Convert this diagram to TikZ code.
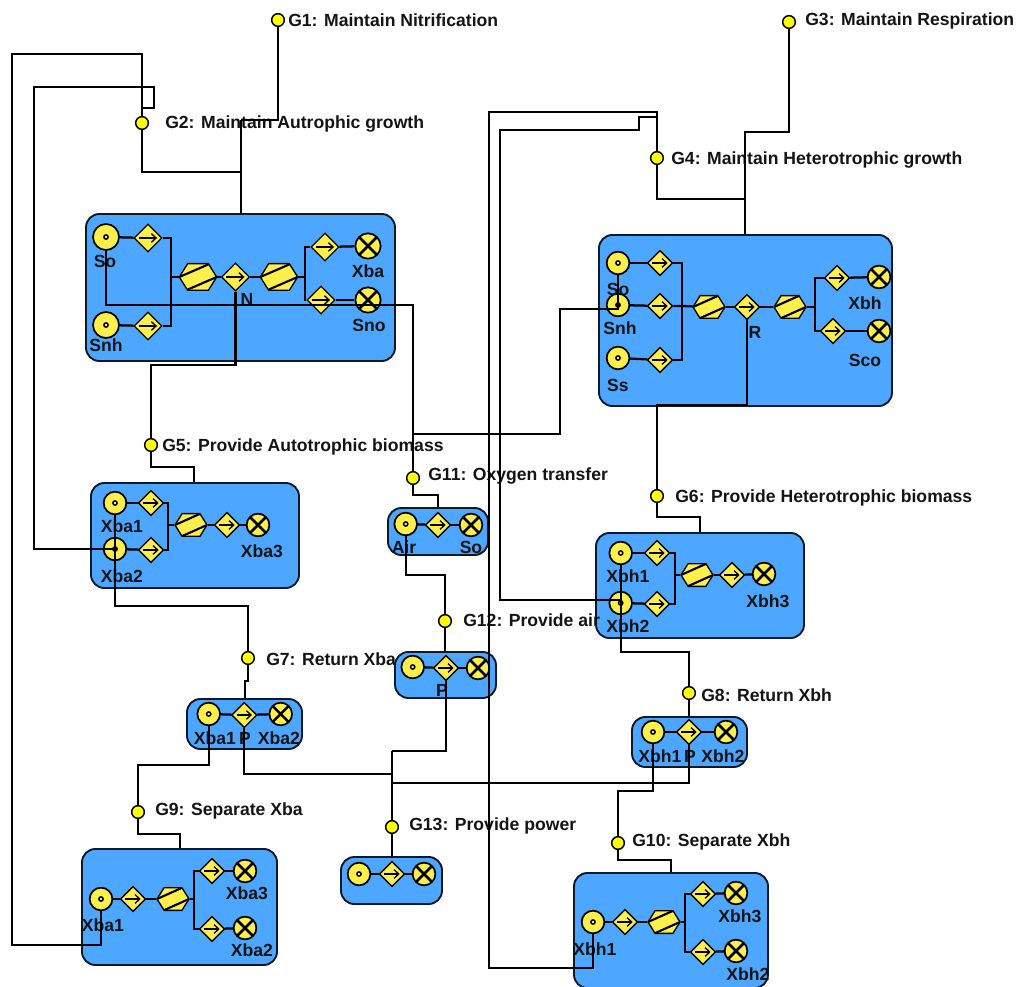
\documentclass[tikz,border=0pt]{standalone}
\usepackage{fontspec}
\setmainfont{Liberation Sans}
\usetikzlibrary{fit, shapes.geometric, shapes.symbols, arrows.meta}
\definecolor{boxblue}{HTML}{4DA6FF}
\definecolor{boxline}{HTML}{101828}
\definecolor{symyellow}{HTML}{FFEF4A}
\definecolor{goalyellow}{HTML}{FFFF00}
\definecolor{inkblack}{HTML}{141414}

\begin{document}
\begin{tikzpicture}[x=0.75pt,y=-0.75pt]
	\tikzstyle{boxnode}=[draw=boxline,line width=1.4pt,fill=boxblue,rounded corners=10pt,inner sep=0pt]
	\tikzstyle{srcnode}=[circle,draw=black,line width=1.3pt,fill=symyellow,inner sep=0pt,minimum size=17pt,
		path picture={\draw[line width=1.1pt] (path picture bounding box.center) circle (1.6pt);}]
	\tikzstyle{srcbig}=[srcnode,minimum size=19.5pt]
	\tikzstyle{tasknode}=[diamond,aspect=1,draw=black,line width=1pt,fill=symyellow,inner sep=0pt,minimum size=19pt,
		path picture={\draw[-{Straight Barb[length=3.5pt,width=6.5pt]},line width=1pt] ([xshift=3.5pt]path picture bounding box.west) -- ([xshift=-3.5pt]path picture bounding box.east);}]
	\tikzstyle{taskbig}=[tasknode,minimum size=21pt]
	\tikzstyle{sinknode}=[circle,draw=black,line width=1.3pt,fill=symyellow,inner sep=0pt,minimum size=17pt,
		path picture={\draw[line width=1.9pt] (path picture bounding box.north west) -- (path picture bounding box.south east)
			(path picture bounding box.north east) -- (path picture bounding box.south west);}]
	\tikzstyle{sinkbig}=[sinknode,minimum size=19pt]
	\tikzstyle{hexnode}=[signal,signal to=east and west,signal pointer angle=116,draw=black,line width=1pt,fill=symyellow,
		inner sep=0pt,minimum width=24pt,minimum height=17pt,
		path picture={\draw[line width=1.6pt] (path picture bounding box.west) -- ([xshift=-5pt]path picture bounding box.north east)
			([xshift=5pt]path picture bounding box.south west) -- (path picture bounding box.east);}]
	\tikzstyle{hexbig}=[hexnode,minimum width=28pt,minimum height=20pt]
	\tikzstyle{goalnode}=[circle,draw=black,line width=1.1pt,fill=goalyellow,inner sep=0pt,minimum size=9.5pt]
	\tikzstyle{goaltext}=[anchor=west,inner sep=0pt,yshift=-1pt,text=inkblack,font=\fontsize{13.2}{15}\selectfont\bfseries]
	\tikzstyle{symtext}=[inner sep=0pt,text=inkblack,font=\fontsize{13.2}{15}\selectfont\bfseries]
	\tikzstyle{wire}=[draw=black,line width=1.7pt]
	\tikzstyle{thickwire}=[draw=black,line width=2.2pt]

	\useasboundingbox (0,0) rectangle (1018,987);

	\node[boxnode,fit={(86,214) (395,361)}] (bg2) {};
	\node[boxnode,fit={(599,235) (892,406)}] (bg4) {};
	\node[boxnode,fit={(91,483) (299,588)}] (bg5) {};
	\node[boxnode,fit={(596,533) (804,638)}] (bg6) {};
	\node[boxnode,fit={(388,508) (488,555)}] (bg11) {};
	\node[boxnode,fit={(395,652) (496,698)}] (bg12) {};
	\node[boxnode,fit={(187,699) (302,749)}] (bg7) {};
	\node[boxnode,fit={(632,717) (747,767)}] (bg8) {};
	\node[boxnode,fit={(82,849) (277,965)}] (bg9) {};
	\node[boxnode,fit={(574,873) (768,988)}] (bg10) {};
	\node[boxnode,fit={(341,857) (442,904)}] (bg13) {};

	\node[srcbig] (so2) at (106,237) {};
	\node[taskbig] (tso2) at (148,238) {};
	\node[srcbig] (snh2) at (106,325) {};
	\node[taskbig] (tsnh2) at (148,326) {};
	\node[hexbig] (hexa2) at (198,277) {};
	\node[taskbig] (tn2) at (235.5,277) {};
	\node[hexbig] (hexb2) at (279,277) {};
	\node[taskbig] (txba2) at (325,247) {};
	\node[sinkbig] (xba2) at (368,246) {};
	\node[taskbig] (tsno2) at (321,300) {};
	\node[sinkbig] (sno2) at (368,300) {};
	\coordinate (ja2) at (171,277);
	\coordinate (jb2) at (305,277);
	\node[symtext] (lso2) at (105,261) {So};
	\node[symtext] (lsnh2) at (106,345) {Snh};
	\node[symtext] (ln2) at (247,299) {N};
	\node[symtext] (lxba2) at (368,271) {Xba};
	\node[symtext] (lsno2) at (369,325) {Sno};
	\draw[wire] (so2) -- (tso2);
	\draw[wire] (snh2) -- (tsnh2);
	\draw[wire] (tso2) -| (ja2) |- (tsnh2);
	\draw[wire] (ja2) -- (hexa2);
	\draw[wire] (hexa2) -- (tn2);
	\draw[wire] (tn2) -- (hexb2);
	\draw[wire] (hexb2) -- (jb2);
	\draw[wire] (txba2) -| (jb2) |- (tsno2);
	\draw[wire] (txba2) -- (xba2);
	\draw[wire] (tsno2) -- (sno2);

	\node[srcnode] (so4) at (618,263) {};
	\node[tasknode] (tso4) at (660,263) {};
	\node[srcnode] (snh4) at (618,305) {};
	\node[tasknode] (tsnh4) at (660,306) {};
	\node[srcnode] (ss4) at (618,358) {};
	\node[tasknode] (tss4) at (660,360) {};
	\node[hexnode] (hexa4) at (709,307) {};
	\node[tasknode] (tr4) at (747,307) {};
	\node[hexnode] (hexb4) at (790,307) {};
	\node[tasknode] (txbh4) at (837,278) {};
	\node[sinknode] (xbh4) at (879,277) {};
	\node[tasknode] (tsco4) at (833,331) {};
	\node[sinknode] (sco4) at (879,331) {};
	\coordinate (ja4) at (682,306);
	\coordinate (jb4) at (815,307);
	\node[symtext] (lso4) at (618,289) {So};
	\node[symtext] (lsnh4) at (620,328) {Snh};
	\node[symtext] (lss4) at (618,385) {Ss};
	\node[symtext] (lr4) at (755,332) {R};
	\node[symtext] (lxbh4) at (865,303) {Xbh};
	\node[symtext] (lsco4) at (865,360) {Sco};
	\draw[wire] (so4) -- (tso4);
	\draw[wire] (snh4) -- (tsnh4);
	\draw[wire] (ss4) -- (tss4);
	\draw[wire] (tso4) -| (ja4) |- (tss4);
	\draw[wire] (tsnh4) -- (ja4) -- (hexa4);
	\draw[wire] (hexa4) -- (tr4);
	\draw[wire] (tr4) -- (hexb4);
	\draw[wire] (hexb4) -- (jb4);
	\draw[wire] (txbh4) -| (jb4) |- (tsco4);
	\draw[wire] (txbh4) -- (xbh4);
	\draw[wire] (tsco4) -- (sco4);

	\node[srcnode] (xbaa5) at (115,503) {};
	\node[tasknode] (txbaa5) at (151,503) {};
	\node[srcnode] (xbab5) at (115,549) {};
	\node[tasknode] (txbab5) at (151,550) {};
	\node[hexnode] (hex5) at (191,525) {};
	\node[tasknode] (txbac5) at (227,525) {};
	\node[sinknode] (xbac5) at (258,525) {};
	\coordinate (j5) at (168,525);
	\node[symtext] (lxbaa5) at (122,526) {Xba1};
	\node[symtext] (lxbab5) at (122,576) {Xba2};
	\node[symtext] (lxbac5) at (262,551) {Xba3};
	\draw[wire] (xbaa5) -- (txbaa5);
	\draw[wire] (xbab5) -- (txbab5);
	\draw[wire] (txbaa5) -| (j5) |- (txbab5);
	\draw[wire] (j5) -- (hex5);
	\draw[wire] (hex5) -- (txbac5);
	\draw[wire] (txbac5) -- (xbac5);

	\node[srcnode] (xbha6) at (620.7,553) {};
	\node[tasknode] (txbha6) at (657,553) {};
	\node[srcnode] (xbhb6) at (620.7,603) {};
	\node[tasknode] (txbhb6) at (657,604) {};
	\node[hexnode] (hex6) at (697,575) {};
	\node[tasknode] (txbhc6) at (732,575) {};
	\node[sinknode] (xbhc6) at (764,574) {};
	\coordinate (j6) at (675,575);
	\node[symtext] (lxbha6) at (628,576) {Xbh1};
	\node[symtext] (lxbhb6) at (628,626) {Xbh2};
	\node[symtext] (lxbhc6) at (768,601) {Xbh3};
	\draw[wire] (xbha6) -- (txbha6);
	\draw[wire] (xbhb6) -- (txbhb6);
	\draw[wire] (txbha6) -| (j6) |- (txbhb6);
	\draw[wire] (j6) -- (hex6);
	\draw[wire] (hex6) -- (txbhc6);
	\draw[wire] (txbhc6) -- (xbhc6);

	\node[srcnode] (air11) at (405.7,524) {};
	\node[tasknode] (t11) at (438,525) {};
	\node[sinknode] (so11) at (471,525) {};
	\node[symtext] (lair11) at (404,547) {Air};
	\node[symtext] (lso11) at (471,547) {So};
	\draw[wire] (air11) -- (t11);
	\draw[wire] (t11) -- (so11);

	\node[srcnode] (src12) at (412.7,667) {};
	\node[tasknode] (p12) at (446,668) {};
	\node[sinknode] (snk12) at (478,668) {};
	\node[symtext] (lp12) at (442,690) {P};
	\draw[wire] (src12) -- (p12);
	\draw[wire] (p12) -- (snk12);

	\node[srcnode] (xbaa7) at (208.7,714) {};
	\node[tasknode] (p7) at (244.3,715) {};
	\node[sinknode] (xbab7) at (280.7,714) {};
	\node[symtext] (lxbaa7) at (215,738) {Xba1};
	\node[symtext] (lp7) at (245,738) {P};
	\node[symtext] (lxbab7) at (279,738) {Xba2};
	\draw[wire] (xbaa7) -- (p7);
	\draw[wire] (p7) -- (xbab7);

	\node[srcnode] (xbha8) at (653,732) {};
	\node[tasknode] (p8) at (689,732) {};
	\node[sinknode] (xbhb8) at (726,732) {};
	\node[symtext] (lxbha8) at (660,756) {Xbh1};
	\node[symtext] (lp8) at (690,756) {P};
	\node[symtext] (lxbhb8) at (723,756) {Xbh2};
	\draw[wire] (xbha8) -- (p8);
	\draw[wire] (p8) -- (xbhb8);

	\node[srcnode] (xbaa9) at (101,899) {};
	\node[tasknode] (t9) at (133,899) {};
	\node[hexnode] (hex9) at (173,899) {};
	\node[tasknode] (txbac9) at (212,871) {};
	\node[sinknode] (xbac9) at (245,871) {};
	\node[tasknode] (txbab9) at (212,929) {};
	\node[sinknode] (xbab9) at (245,928) {};
	\coordinate (j9) at (194,899);
	\node[symtext] (lxbaa9) at (103,925) {Xba1};
	\node[symtext] (lxbac9) at (247,893) {Xba3};
	\node[symtext] (lxbab9) at (252,950) {Xba2};
	\draw[wire] (xbaa9) -- (t9);
	\draw[wire] (t9) -- (hex9);
	\draw[wire] (hex9) -- (j9);
	\draw[wire] (txbac9) -| (j9) |- (txbab9);
	\draw[wire] (txbac9) -- (xbac9);
	\draw[wire] (txbab9) -- (xbab9);

	\node[srcnode] (xbha10) at (593,922) {};
	\node[tasknode] (t10) at (625,922) {};
	\node[hexnode] (hex10) at (664,922) {};
	\node[tasknode] (txbhc10) at (703,894) {};
	\node[sinknode] (xbhc10) at (736,893) {};
	\node[tasknode] (txbhb10) at (703,952) {};
	\node[sinknode] (xbhb10) at (736,951) {};
	\coordinate (j10) at (685,922);
	\node[symtext] (lxbha10) at (595,949) {Xbh1};
	\node[symtext] (lxbhc10) at (740,916) {Xbh3};
	\node[symtext] (lxbhb10) at (748,974) {Xbh2};
	\draw[wire] (xbha10) -- (t10);
	\draw[wire] (t10) -- (hex10);
	\draw[wire] (hex10) -- (j10);
	\draw[wire] (txbhc10) -| (j10) |- (txbhb10);
	\draw[wire] (txbhc10) -- (xbhc10);
	\draw[wire] (txbhb10) -- (xbhb10);

	\node[srcnode] (src13) at (359,874) {};
	\node[tasknode] (t13) at (392,874) {};
	\node[sinknode] (snk13) at (424,874) {};
	\draw[wire] (src13) -- (t13);
	\draw[wire] (t13) -- (snk13);

	\node[goalnode] (g1) at (278,20) {};
	\node[goalnode] (g2) at (142,123) {};
	\node[goalnode] (g3) at (789,22) {};
	\node[goalnode] (g4) at (657,158) {};
	\node[goalnode] (g5) at (151,445) {};
	\node[goalnode] (g6) at (657,496) {};
	\node[goalnode] (g7) at (248,658) {};
	\node[goalnode] (g8) at (689,693) {};
	\node[goalnode] (g9) at (138,812) {};
	\node[goalnode] (g10) at (618,843) {};
	\node[goalnode] (g11) at (413,478) {};
	\node[goalnode] (g12) at (445,621) {};
	\node[goalnode] (g13) at (392,827) {};

	\node[goaltext] (lg1) at (288,19) {G1: Maintain Nitrification};
	\node[goaltext] (lg2) at (165,123) {G2: Maintain Autrophic growth};
	\node[goaltext] (lg3) at (805,20) {G3: Maintain Respiration};
	\node[goaltext] (lg4) at (671,159) {G4: Maintain Heterotrophic growth};
	\node[goaltext] (lg5) at (162,446) {G5: Provide Autotrophic biomass};
	\node[goaltext] (lg6) at (675,497) {G6: Provide Heterotrophic biomass};
	\node[goaltext] (lg7) at (266,658) {G7: Return Xba};
	\node[goaltext] (lg8) at (701,694) {G8: Return Xbh};
	\node[goaltext] (lg9) at (155,810) {G9: Separate Xba};
	\node[goaltext] (lg10) at (632,841) {G10: Separate Xbh};
	\node[goaltext] (lg11) at (428,475) {G11: Oxygen transfer};
	\node[goaltext] (lg12) at (463,619) {G12: Provide air};
	\node[goaltext] (lg13) at (409,825) {G13: Provide power};

	\coordinate (trunk1) at (241,120);
	\coordinate (trunk2) at (241,172);
	\coordinate (g2up) at (142,108);
	\coordinate (trunk3) at (745,132);
	\coordinate (trunk4) at (745,199);
	\coordinate (g4up) at (657,117);
	\coordinate (oxy) at (413,434);
	\coordinate (pwr) at (392,751);
	\coordinate (pwra) at (392,774);
	\coordinate (pwrb) at (392,783);
	\coordinate (xbhin) at (620.7,600);

	\draw[wire] (g1) |- (trunk1);
	\draw[thickwire] (trunk1) -- (trunk1 |- bg2.north);
	\draw[wire] (g2) |- (trunk2);
	\draw[wire] (g2) -- (g2up);
	\draw[wire] (g2up) -- (154,108) -- (154,87) -- (34,87) -- (34,549) -- (xbab5.center);
	\draw[wire] (g2up) -- (142,54) -- (12,54) -- (12,945) -- (101,945) -- (xbaa9);
	\draw[wire] (g3) |- (trunk3) -- (trunk3 |- bg4.north);
	\draw[wire] (g4) |- (trunk4);
	\draw[wire] (g4) -- (g4up);
	\draw[wire] (g4up) -- (657,112) -- (489,112) -- (489,968) -- (593,968) -- (xbha10);
	\draw[wire] (g4up) -- (639,117) -- (639,130) -- (500,130) -- (500,600) -- (xbhin);
	\draw[wire] (tn2) -- (235.5,365) -- (151,365) -- (g5);
	\draw[wire] (g5) -- (151,467) -- (194,467) -- (194,467 |- bg5.north);
	\draw[wire] (tr4) -- (747,405) -- (657,405) -- (g6);
	\draw[wire] (g6) -- (657,517) -- (700,517) -- (700,517 |- bg6.north);
	\draw[wire] (xbaa5) -- (115,606) -- (248,606) -- (g7);
	\draw[wire] (g7) -- (248,681) -- (245,681) -- (245,681 |- bg7.north);
	\draw[wire] (xbha6) -- (620.7,652) -- (689,652) -- (g8);
	\draw[wire] (g8) -- (689,693 |- bg8.north);
	\draw[wire] (xbaa7) -- (208.7,765) -- (138,765) -- (g9);
	\draw[wire] (g9) -- (138,834) -- (180,834) -- (180,834 |- bg9.north);
	\draw[wire] (xbha8) -- (653,790.7) -- (618,790.7) -- (g10);
	\draw[wire] (g10) -- (618,860) -- (670.7,860) -- (670.7,860 |- bg10.north);
	\draw[wire] (so2) -- (106,305) -- (413,305) -- (g11);
	\draw[wire] (so4) -- (618,309) -- (560,309) -- (560,434) -- (oxy);
	\draw[wire] (g11) -- (413,495) -- (438,495) -- (438,495 |- bg11.north);
	\draw[wire] (air11) -- (405.7,575) -- (445,575) -- (g12);
	\draw[thickwire] (g12) -- (445,621 |- bg12.north);
	\draw[wire] (p12) -- (446,751) -- (pwr);
	\draw[wire] (p7) -- (244.3,774) -- (pwra);
	\draw[wire] (p8) -- (689,783) -- (pwrb);
	\draw[wire] (pwr) -- (pwrb);
	\draw[thickwire] (pwrb) -- (g13);
	\draw[thickwire] (g13) -- (392,827 |- bg13.north);
\end{tikzpicture}
\end{document}
